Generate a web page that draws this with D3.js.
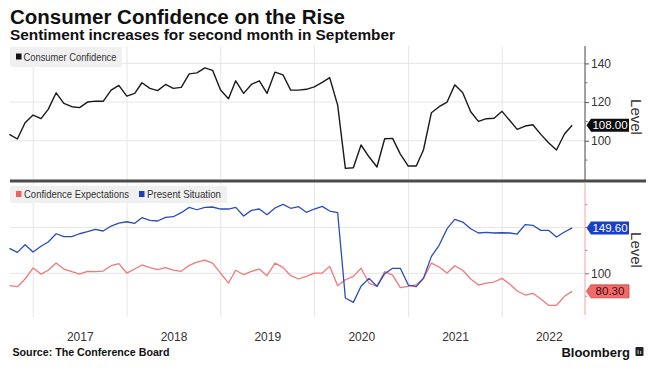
<!DOCTYPE html>
<html><head><meta charset="utf-8">
<script src="https://cdn.jsdelivr.net/npm/d3@7"></script>
<style>
html,body{margin:0;padding:0;background:#fff;}
svg{display:block;font-family:"Liberation Sans",Arial,sans-serif;}
</style></head>
<body><svg id="c" width="653" height="373"></svg>
<script>
// ---- data (monthly, Sep 2016 .. Sep 2022) ----
const startYear = 2016, startMonth = 8; // September 2016
const confidence = [103.3,100.9,109.3,113.3,111.4,116.2,124.8,119.3,117.6,117.1,
 120.0,120.5,120.4,126.2,128.6,123.1,124.5,130.0,127.1,125.9,
 129.1,127.1,127.6,134.6,135.1,
 137.7,136.4,126.2,121.7,131.0,124.5,129.1,131.0,124.5,135.5,134.1,126.2,126.2,126.6,127.9,130.2,132.6,118.4,85.7,86.0,97.8,91.7,86.4,101.0,
 101.2,93.1,86.9,86.9,95.2,114.5,117.6,120.0,128.9,124.8,115.0,110.0,111.4,111.6,115.2,110.3,105.9,107.6,108.3,103.3,99.0,95.2,103.5,108.0];
const presentSituation = [127.3,122.9,131.2,123.3,129.5,134.2,143.2,140.0,140.0,143.2,145.4,148.0,146.2,151.6,154.9,156.3,154.6,160.7,157.8,157.1,161.1,161.8,166.2,172.0,169.4,
 172.0,172.4,170.2,170.2,172.0,162.6,168.7,170.2,164.0,171.3,175.3,171.0,172.7,166.6,170.2,173.1,168.0,166.2,73.0,68.3,85.8,94.5,85.8,
 99.6,105.5,105.5,87.2,85.4,94.5,118.5,130.6,148.7,158.9,156.0,148.7,144.0,144.7,144.0,144.3,144.0,142.9,153.1,152.4,146.9,146.9,139.6,145.1,149.6];
const expectations = [86.5,85.4,93.8,105.8,99.2,103.3,111.2,104.7,101.8,99.2,102.2,101.8,102.5,108.3,110.5,100.3,104.7,109.1,106.1,104.0,106.1,103.6,102.2,108.7,112.3,
 114.5,111.2,100.3,89.4,103.3,98.5,102.2,104.7,97.4,111.2,106.5,97.4,93.8,96.7,100.3,100.3,107.6,86.5,93.0,96.7,105.5,89.4,85.8,
 101.8,98.1,84.3,85.8,87.6,94.5,111.2,106.9,100.3,108.3,103.3,93.8,87.2,89.4,90.5,94.5,88.0,80.7,76.3,78.2,71.9,65.1,65.1,74.9,80.3];
const years = [2017,2018,2019,2020,2021,2022];
const topTicks = [100,120,140], topMinor = [90,110,130];
const botTicks = [100], botMinor = [75,125,150,175];
const topGrid = [100,120,140], botGrid = [100,150];
const lastConf = "108.00", lastPresent = "149.60", lastExpect = "80.30";

// dates: month-end
const dates = confidence.map((d,i)=> new Date(startYear, startMonth + i + 1, 0));

const svg = d3.select("#c");
const x = d3.scaleTime().domain([new Date(2017,0,1), new Date(2022,0,1)]).range([33.3, 502.3]);
const yT = d3.scaleLinear().domain([80,149]).range([179.4,46]);
const yB = d3.scaleLinear().domain([54.5,198.6]).range([315,183]);
const left = 10, axisX = 585;

// title
svg.append("text").attr("x",10).attr("y",24).attr("font-size",20).attr("font-weight","bold")
  .attr("fill","#111").attr("textLength",335).attr("lengthAdjust","spacingAndGlyphs")
  .text("Consumer Confidence on the Rise");
svg.append("text").attr("x",10).attr("y",40).attr("font-size",14).attr("font-weight","bold")
  .attr("fill","#111").attr("textLength",385).attr("lengthAdjust","spacingAndGlyphs")
  .text("Sentiment increases for second month in September");

// gridlines
const g = svg.append("g");
years.forEach(yr=>{
  const xx = x(new Date(yr,0,1));
  g.append("line").attr("x1",xx).attr("x2",xx).attr("y1",46).attr("y2",180).attr("stroke","#e6e6e6").attr("stroke-width",1);
  g.append("line").attr("x1",xx).attr("x2",xx).attr("y1",183).attr("y2",317).attr("stroke","#e6e6e6").attr("stroke-width",1);
});
topGrid.forEach(v=>g.append("line").attr("x1",left).attr("x2",axisX).attr("y1",yT(v)).attr("y2",yT(v)).attr("stroke","#e6e6e6"));
botGrid.forEach(v=>g.append("line").attr("x1",left).attr("x2",axisX).attr("y1",yB(v)).attr("y2",yB(v)).attr("stroke","#e6e6e6"));

// legends
svg.append("rect").attr("x",10).attr("y",47).attr("width",112).attr("height",20).attr("fill","#f0f0f0");
svg.append("rect").attr("x",16).attr("y",53.5).attr("width",5.5).attr("height",6).attr("fill","#111");
svg.append("text").attr("x",23.5).attr("y",61).attr("font-size",11).attr("fill","#333")
  .attr("textLength",93).attr("lengthAdjust","spacingAndGlyphs").text("Consumer Confidence");

svg.append("rect").attr("x",10).attr("y",186).attr("width",217).attr("height",17).attr("fill","#f0f0f0");
svg.append("rect").attr("x",16).attr("y",191).attr("width",5.5).attr("height",6).attr("fill","#ec6262");
svg.append("text").attr("x",24).attr("y",198).attr("font-size",11).attr("fill","#333")
  .attr("textLength",105).attr("lengthAdjust","spacingAndGlyphs").text("Confidence Expectations");
svg.append("rect").attr("x",139).attr("y",191).attr("width",5.5).attr("height",6).attr("fill","#1a3fc0");
svg.append("text").attr("x",147).attr("y",198).attr("font-size",11).attr("fill","#333")
  .attr("textLength",74).attr("lengthAdjust","spacingAndGlyphs").text("Present Situation");

// lines
const lineT = d3.line().x((d,i)=>x(dates[i])).y(d=>yT(d));
const lineB = d3.line().x((d,i)=>x(dates[i])).y(d=>yB(d));
svg.append("path").attr("d",lineT(confidence)).attr("fill","none").attr("stroke","#1a1a1a").attr("stroke-width",1.4).attr("stroke-linejoin","round");
svg.append("path").attr("d",lineB(expectations)).attr("fill","none").attr("stroke","#f07878").attr("stroke-width",1.3).attr("stroke-linejoin","round");
svg.append("path").attr("d",lineB(presentSituation)).attr("fill","none").attr("stroke","#2a4db8").attr("stroke-width",1.3).attr("stroke-linejoin","round");

// separator
svg.append("rect").attr("x",10).attr("y",179.5).attr("width",636).attr("height",3).attr("fill","#4a4a4a");

// top axis
const axT = d3.axisRight(yT).tickValues(topTicks).tickSize(4).tickPadding(2).tickFormat(d3.format("d"));
const gT = svg.append("g").attr("transform",`translate(${axisX},0)`).call(axT);
gT.select(".domain").remove();
gT.selectAll("line").attr("stroke","#555");
gT.selectAll("text").attr("font-size",12).attr("fill","#333").attr("font-family","Liberation Sans, Arial, sans-serif");
svg.append("line").attr("x1",axisX).attr("x2",axisX).attr("y1",46).attr("y2",180).attr("stroke","#444").attr("stroke-width",1);
topMinor.forEach(v=>svg.append("line").attr("x1",axisX).attr("x2",axisX+2.5).attr("y1",yT(v)).attr("y2",yT(v)).attr("stroke","#777"));

// bottom axis
svg.append("line").attr("x1",axisX).attr("x2",axisX).attr("y1",182).attr("y2",315).attr("stroke","#f3a3a3").attr("stroke-width",1);
const axB = d3.axisRight(yB).tickValues(botTicks).tickSize(4).tickPadding(2).tickFormat(d3.format("d"));
const gB = svg.append("g").attr("transform",`translate(${axisX},0)`).call(axB);
gB.select(".domain").remove();
gB.selectAll("line").attr("stroke","#777");
gB.selectAll("text").attr("font-size",12).attr("fill","#333").attr("font-family","Liberation Sans, Arial, sans-serif");
botMinor.forEach(v=>svg.append("line").attr("x1",axisX).attr("x2",axisX+2.5).attr("y1",yB(v)).attr("y2",yB(v)).attr("stroke","#999"));

// Level titles
function level(cy){
  svg.append("text").attr("transform",`translate(630.5,${cy}) rotate(90)`).attr("text-anchor","middle")
    .attr("font-size",15).attr("fill","#333").text("Level");
}
level(117); level(250);

// value labels
function valLabel(cy, txt, fill, tcol, stroke){
  const x0 = axisX+1.5, tip = 4.5, w = 38, h = 13;
  const p = `M${x0},${cy} L${x0+tip},${cy-h/2} L${x0+tip+w},${cy-h/2} L${x0+tip+w},${cy+h/2} L${x0+tip},${cy+h/2} Z`;
  svg.append("path").attr("d",p).attr("fill",fill).attr("stroke",stroke||"none").attr("stroke-width",0.8);
  svg.append("text").attr("x",x0+tip+w/2).attr("y",cy+4).attr("text-anchor","middle").attr("font-size",11.5)
    .attr("fill",tcol).text(txt);
}
valLabel(yT(+lastConf), lastConf, "#0d0d0d", "#fff");
valLabel(yB(+lastPresent), lastPresent, "#1a3fc6", "#fff");
valLabel(yB(+lastExpect), lastExpect, "#f26a6a", "#3a1010", "#c84040");

// x axis labels (mid-year)
const axX = d3.axisBottom(x).tickValues(years.map(y=>new Date(y,6,1))).tickSize(0).tickPadding(0).tickFormat(d3.timeFormat("%Y"));
const gX = svg.append("g").attr("transform","translate(0,332)").call(axX);
gX.select(".domain").remove();
gX.selectAll("text").attr("font-size",12).attr("fill","#333").attr("font-family","Liberation Sans, Arial, sans-serif");

// footer
svg.append("text").attr("x",12.5).attr("y",356).attr("font-size",11).attr("font-weight","bold").attr("fill","#111")
  .attr("textLength",157).attr("lengthAdjust","spacingAndGlyphs").text("Source: The Conference Board");
svg.append("text").attr("x",630).attr("y",357).attr("text-anchor","end").attr("font-size",13).attr("font-weight","bold")
  .attr("fill","#111").text("Bloomberg");
svg.append("rect").attr("x",635.5).attr("y",347).attr("width",8).attr("height",9).attr("rx",1).attr("fill","#222");
svg.append("rect").attr("x",637.5).attr("y",350).attr("width",1.2).attr("height",4).attr("fill","#aaa");
svg.append("rect").attr("x",640).attr("y",351).attr("width",1.2).attr("height",3).attr("fill","#aaa");
</script></body></html>
